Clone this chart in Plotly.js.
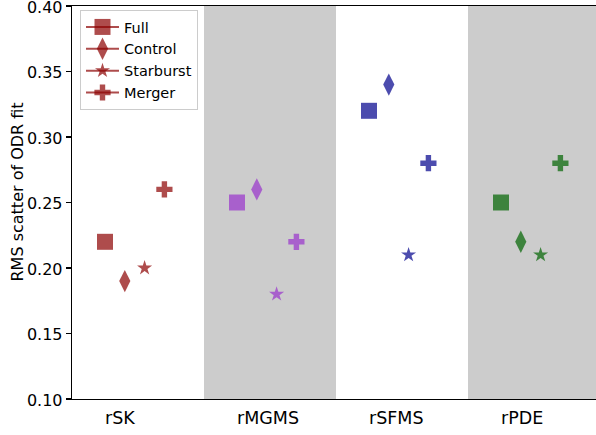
<!DOCTYPE html>
<html>
<head>
<meta charset="utf-8">
<script src="https://cdn.plot.ly/plotly-3.0.1.min.js"></script>
<style>html,body{margin:0;padding:0;background:#fff;}#chart{width:596px;height:435px;}</style>
</head>
<body>
<div id="chart"></div>
<script>
// ---- data ----
var categories = ["rSK", "rMGMS", "rSFMS", "rPDE"];
var seriesNames = ["Full", "Control", "Starburst", "Merger"];
var fullVals = [0.22, 0.25, 0.32, 0.25];
var controlVals = [0.19, 0.26, 0.34, 0.22];
var starburstVals = [0.20, 0.18, 0.21, 0.21];
var mergerVals = [0.26, 0.22, 0.28, 0.28];
var yTicks = [0.10, 0.15, 0.20, 0.25, 0.30, 0.35, 0.40];
var yTitle = "RMS scatter of ODR fit";

// ---- styles ----
var catColors = ["rgb(139,0,0)", "rgb(153,50,204)", "rgb(0,0,139)", "rgb(0,100,0)"];
var symbols = ["square", "diamond-tall", "star", "cross"];
var sizes = [16, 16, 11.3, 13.5];
var offsets = [0.25, 0.40, 0.55, 0.70];
var allVals = [fullVals, controlVals, starburstVals, mergerVals];

var traces = [];
for (var s = 0; s < seriesNames.length; s++) {
  var xs = [], ys = [], cs = [];
  for (var i = 0; i < categories.length; i++) {
    if (i > 0) { xs.push(null); ys.push(null); cs.push(catColors[i]); }
    xs.push(i + offsets[s]);
    ys.push(allVals[s][i]);
    cs.push(catColors[i]);
  }
  traces.push({
    type: "scatter",
    mode: "lines+markers",
    name: seriesNames[s],
    x: xs, y: ys,
    connectgaps: false,
    line: {color: "rgba(139,0,0,0.7)", width: 2},
    marker: {symbol: symbols[s], size: sizes[s], color: cs, opacity: 0.7, line: {width: 0}},
    cliponaxis: false
  });
}

var shapes = [];
for (var i = 0; i < categories.length; i++) {
  if (i % 2 === 1) {
    shapes.push({type: "rect", xref: "x", yref: "paper", x0: i, x1: i + 1, y0: 0, y1: 1,
      fillcolor: "#cccccc", line: {width: 0}, layer: "below"});
  }
}

var annotations = categories.map(function (c, i) {
  return {text: c, x: i + 0.25, xref: "x", y: 0, yref: "paper", xanchor: "left", yanchor: "middle",
    yshift: -19, xshift: -2, showarrow: false, font: {family: "DejaVu Sans", size: 17.5, color: "#000"}};
});
annotations.push({text: yTitle, textangle: -90, xref: "paper", yref: "paper",
  x: (16.5 - 72) / 524, y: (399 - 192) / 393, xanchor: "center", yanchor: "middle", showarrow: false,
  font: {family: "DejaVu Sans", size: 16, color: "#000"}});

var layout = {
  width: 596, height: 435,
  margin: {l: 72, r: 0, t: 6, b: 36},
  paper_bgcolor: "#fff", plot_bgcolor: "#fff",
  font: {family: "DejaVu Sans", color: "#000", size: 14.5},
  showlegend: true,
  legend: {x: 8 / 524, y: (399 - 10) / 393, xanchor: "left", yanchor: "top", itemwidth: 33,
    bgcolor: "rgba(255,255,255,0.8)", bordercolor: "#cccccc", borderwidth: 1,
    font: {family: "DejaVu Sans", size: 14.5, color: "#000"}},
  xaxis: {range: [0, 524 / 132], showgrid: false, zeroline: false, showline: true, mirror: true,
    linecolor: "#000", linewidth: 1.3, showticklabels: false, ticks: "", fixedrange: true},
  yaxis: {range: [0.10, 0.400001], tickvals: yTicks, tickformat: ".2f", showgrid: false, zeroline: false,
    showline: true, linecolor: "#000", linewidth: 1.3, ticks: "outside", ticklen: 5, tickwidth: 1.2,
    ticklabeloverflow: "allow", ticklabelshift: 1,
    tickcolor: "#000", tickfont: {family: "DejaVu Sans", size: 16, color: "#000"},
    automargin: false},
  shapes: shapes,
  annotations: annotations
};

Plotly.newPlot("chart", traces, layout, {displayModeBar: false, staticPlot: true});
</script>
</body>
</html>
